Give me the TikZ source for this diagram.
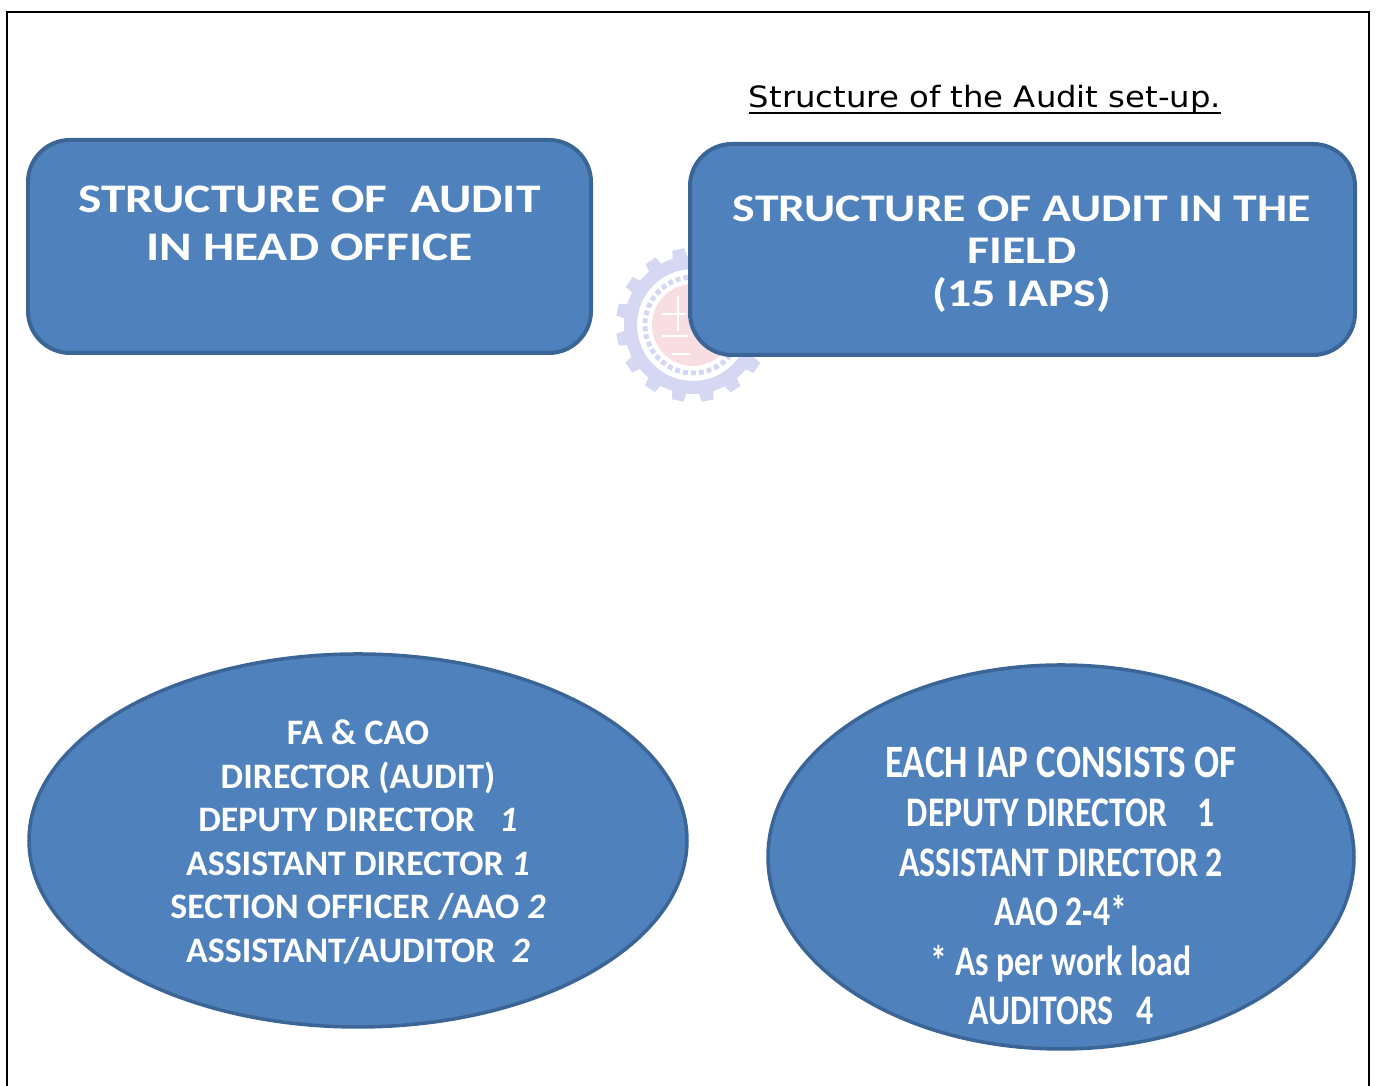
\documentclass[tikz,border=0pt]{standalone}
\usepackage{fontspec}
\usetikzlibrary{shapes.geometric}
\newfontfamily\titlefont[FakeStretch=1.1]{DejaVu Sans}
\newfontfamily\boxfont[FakeStretch=1.22]{Carlito}
\newfontfamily\headfont{Carlito}
\newfontfamily\fieldfont[FakeStretch=0.8]{Carlito}
\definecolor{boxfill}{HTML}{4F81BD}
\definecolor{boxline}{HTML}{3A6596}
\definecolor{gearcol}{HTML}{D6D8F3}
\definecolor{sealcol}{HTML}{F8DDE2}
\tikzset{
  roundbox/.style={draw=boxline,fill=boxfill,line width=0.04cm,rounded corners=0.42cm,inner sep=0pt},
  ovalbox/.style={ellipse,draw=boxline,fill=boxfill,line width=0.035cm,inner sep=0pt},
  boxtext/.style={text=white,align=center,inner sep=0pt}
}
\begin{document}
\begin{tikzpicture}
  \useasboundingbox (0,0) rectangle (13.76,10.86);

  % Page frame, runs off the bottom
  \draw [line width=0.025cm] (0.07,0) -- (0.07,10.74) -- (13.69,10.74) -- (13.69,0);

  % Seal behind the right box
  \fill [gearcol,even odd rule] (6.93,7.61) circle (0.69) (6.93,7.61) circle (0.56);
  \foreach \ang in {0,22.5,...,337.5}
    \fill [gearcol,rotate around={\ang+11:(6.93,7.61)}] (6.85,8.25) -- (6.87,8.38) -- (6.99,8.38) -- (7.01,8.25) -- cycle;
  \fill [sealcol] (6.93,7.61) circle (0.41);
  \draw [gearcol,line width=0.05cm,dash pattern=on 0.05cm off 0.03cm] (6.93,7.61) circle (0.48);
  \draw [white,line width=0.025cm] (6.62,7.72) -- (6.86,7.72) (6.62,7.50) -- (6.88,7.50) (6.72,7.32) -- (6.90,7.32) (6.78,7.90) -- (6.78,7.55);

  % Title with its rule
  \node (title) [anchor=base,inner sep=0pt] at (9.85,9.78) {\titlefont\fontsize{8.35pt}{11pt}\selectfont Structure of the Audit set-up.};
  \draw [line width=0.02cm] (7.49,9.73) -- (12.21,9.73);

  % Top boxes
  \node (headbox) [roundbox,minimum width=5.63cm,minimum height=2.13cm] at (3.095,8.395) {};
  \node (headtext) [boxtext,font=\boxfont\bfseries\fontsize{11.55pt}{13.66pt}\selectfont] at (3.095,8.625)
    {STRUCTURE OF\ \ AUDIT\\IN HEAD OFFICE};
  \node (fieldbox) [roundbox,minimum width=6.65cm,minimum height=2.11cm] at (10.225,8.365) {};
  \node (fieldtext) [boxtext,font=\boxfont\bfseries\fontsize{11.15pt}{12.1pt}\selectfont] at (10.22,8.32)
    {STRUCTURE OF AUDIT IN THE\\FIELD\\(15 IAPS)};

  % Bottom ovals
  \node (headoval) [ovalbox,minimum width=6.58cm,minimum height=3.73cm] at (3.58,2.455) {};
  \node (headlist) [boxtext,font=\headfont\bfseries\fontsize{10.2pt}{12.37pt}\selectfont] at (3.58,2.44)
    {FA \& CAO\\DIRECTOR (AUDIT)\\DEPUTY DIRECTOR\ \ \ \textit{1}\\ASSISTANT DIRECTOR \textit{1}\\SECTION OFFICER /AAO \textit{2}\\ASSISTANT/AUDITOR\ \ \textit{2}};
  \node (fieldoval) [ovalbox,minimum width=5.86cm,minimum height=3.84cm] at (10.61,2.29) {};
  \node (fieldlist) [boxtext,font=\fieldfont\bfseries\fontsize{12pt}{14.05pt}\selectfont] at (10.61,2.0)
    {{\fontsize{13.2pt}{14.05pt}\selectfont EACH IAP CONSISTS OF}\\DEPUTY DIRECTOR\ \ \ \ 1\\ASSISTANT DIRECTOR 2\\AAO 2-4*\\* As per work load\\AUDITORS\ \ \ 4};
\end{tikzpicture}
\end{document}
